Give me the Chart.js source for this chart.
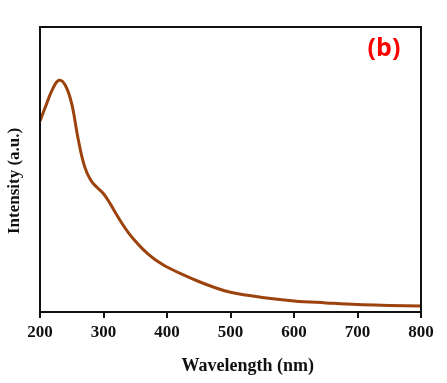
<!DOCTYPE html>
<html>
<head>
<meta charset="utf-8">
<script src="https://cdn.jsdelivr.net/npm/chart.js@4.4.1/dist/chart.umd.min.js"></script>
<style>
  html, body { margin: 0; padding: 0; background: #ffffff; }
  #wrap { width: 447px; height: 383px; position: relative; }
</style>
</head>
<body>
<div id="wrap"><canvas id="c" width="447" height="383"></canvas></div>
<script>
// Data
const wavelengths = [200,210,220,230,240,250,260,270,280,290,300,310,320,330,340,350,360,370,380,390,400,425,450,475,500,550,600,650,700,750,800];
const intensity   = [67,72.8,78.3,81.3,79.5,73,60.8,51.2,46.2,43.7,41.5,38.2,34.4,30.8,27.6,24.9,22.5,20.4,18.6,17.1,15.8,13.1,10.7,8.6,6.9,5.1,3.9,3.2,2.6,2.3,2.1];
const xTicks = [200,300,400,500,600,700,800];
const xTitle = 'Wavelength (nm)';
const yTitle = 'Intensity (a.u.)';
const panelLabel = '(b)';

const points = wavelengths.map((w, i) => ({ x: w, y: intensity[i] }));

const frameAndText = {
  id: 'frameAndText',
  afterDraw(chart) {
    const ctx = chart.ctx;
    const a = chart.chartArea;
    ctx.save();
    // plot frame
    ctx.strokeStyle = '#111';
    ctx.lineWidth = 2;
    ctx.strokeRect(a.left, a.top, a.right - a.left, a.bottom - a.top);
    // x title
    ctx.fillStyle = '#111';
    ctx.font = 'bold 18px "Liberation Serif", "Times New Roman", serif';
    ctx.textAlign = 'center';
    ctx.textBaseline = 'middle';
    ctx.fillText(xTitle, a.left + (a.right - a.left) * 0.545, a.bottom + 54);
    // y title
    ctx.save();
    ctx.translate(15, a.top + (a.bottom - a.top) * 0.54);
    ctx.rotate(-Math.PI / 2);
    ctx.font = 'bold 17px "Liberation Serif", "Times New Roman", serif';
    ctx.fillText(yTitle, 0, 0);
    ctx.restore();
    // panel label
    ctx.fillStyle = '#ff0000';
    ctx.font = 'bold 25px "Open Sans", "Noto Sans", sans-serif';
    ctx.fillText(panelLabel, a.right - 37, a.top + 22);
    ctx.restore();
  }
};

new Chart(document.getElementById('c'), {
  type: 'line',
  data: {
    datasets: [{
      data: points,
      borderColor: '#9c420c',
      borderWidth: 3,
      pointRadius: 0,
      fill: false,
      tension: 0.4
    }]
  },
  options: {
    responsive: false,
    animation: false,
    layout: { padding: { top: 27, right: 26, left: 0, bottom: 0 } },
    plugins: { legend: { display: false }, tooltip: { enabled: false } },
    scales: {
      x: {
        type: 'linear',
        min: 200, max: 800,
        afterBuildTicks(scale) { scale.ticks = xTicks.map(v => ({ value: v })); },
        afterFit(scale) { scale.height = 71; },
        grid: { display: true, drawOnChartArea: false, drawTicks: true, tickLength: 6, color: '#111', lineWidth: 2 },
        border: { display: false },
        ticks: {
          color: '#111',
          padding: 4,
          maxRotation: 0,
          font: { family: '"Liberation Serif", "Times New Roman", serif', size: 17, weight: 'bold' }
        }
      },
      y: {
        min: 0, max: 100,
        afterFit(scale) { scale.width = 40; },
        grid: { display: false },
        border: { display: false },
        ticks: { display: false }
      }
    }
  },
  plugins: [frameAndText]
});
</script>
</body>
</html>
